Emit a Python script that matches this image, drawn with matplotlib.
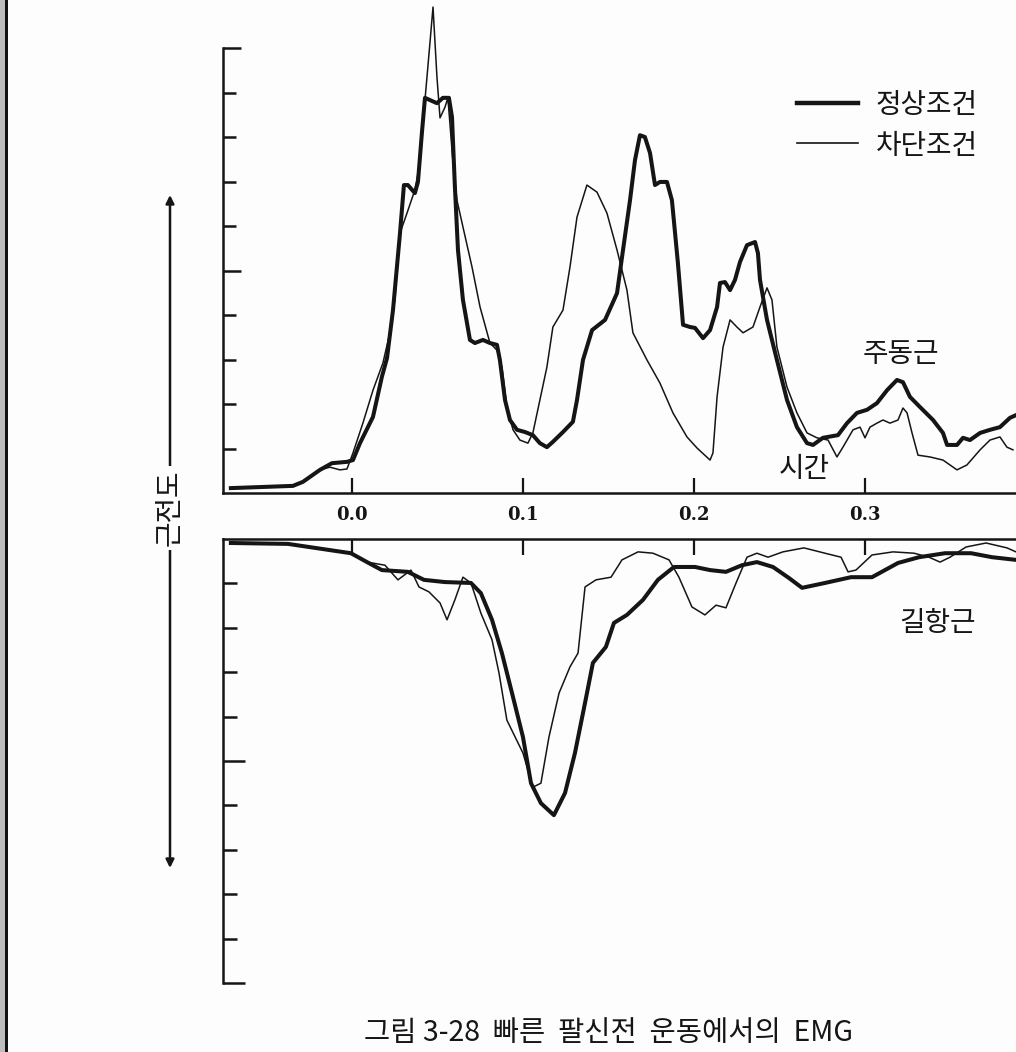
import matplotlib.pyplot as plt
from matplotlib.lines import Line2D
from matplotlib.patches import Rectangle

plt.rcParams['font.family'] = ['Noto Sans CJK KR', 'DejaVu Sans']

# time (s) and EMG level (tick units), agonist (top panel)
t_ago_normal = [-0.0708, -0.0345, -0.0287, -0.0187, -0.0117, -0.0029, 0.0006, 0.0047, 0.0123, 0.0175,
                0.0205, 0.0240, 0.0281, 0.0304, 0.0327, 0.0368, 0.0386, 0.0409, 0.0427, 0.0456,
                0.0497, 0.0532, 0.0567, 0.0585, 0.0602, 0.0620, 0.0649, 0.0690, 0.0719, 0.0766,
                0.0807, 0.0848, 0.0865, 0.0895, 0.0924, 0.0965, 0.1012, 0.1058, 0.1099, 0.1140,
                0.1175, 0.1234, 0.1292, 0.1316, 0.1351, 0.1404, 0.1480, 0.1550, 0.1585, 0.1626,
                0.1655, 0.1684, 0.1713, 0.1743, 0.1772, 0.1801, 0.1842, 0.1871, 0.1906, 0.1936,
                0.1977, 0.2006, 0.2053, 0.2094, 0.2135, 0.2152, 0.2181, 0.2211, 0.2240, 0.2269,
                0.2310, 0.2357, 0.2374, 0.2386, 0.2427, 0.2485, 0.2544, 0.2602, 0.2661, 0.2696,
                0.2754, 0.2842, 0.2895, 0.2953, 0.3012, 0.3070, 0.3129, 0.3187, 0.3222, 0.3263,
                0.3322, 0.3398, 0.3456, 0.3480, 0.3538, 0.3573, 0.3614, 0.3673, 0.3731, 0.3789,
                0.3848, 0.3883]
ago_normal = [0.11, 0.16, 0.25, 0.52, 0.67, 0.70, 0.74, 1.12, 1.71, 2.61,
              3.03, 4.11, 5.84, 6.92, 6.92, 6.74, 6.99, 8.09, 8.88, 8.83,
              8.76, 8.88, 8.88, 8.45, 6.88, 5.46, 4.34, 3.44, 3.37, 3.44,
              3.37, 3.33, 2.99, 2.09, 1.64, 1.42, 1.37, 1.30, 1.12, 1.03,
              1.15, 1.37, 1.60, 2.09, 2.99, 3.66, 3.89, 4.49, 5.46, 6.58,
              7.48, 8.04, 8.00, 7.64, 6.92, 6.99, 6.99, 6.58, 5.17, 3.78,
              3.73, 3.71, 3.48, 3.66, 4.18, 4.72, 4.74, 4.56, 4.79, 5.19,
              5.57, 5.64, 5.39, 4.79, 3.89, 2.99, 2.09, 1.48, 1.12, 1.08,
              1.24, 1.30, 1.57, 1.80, 1.87, 2.02, 2.31, 2.54, 2.49, 2.16,
              1.93, 1.64, 1.35, 1.08, 1.08, 1.24, 1.19, 1.35, 1.42, 1.48,
              1.69, 1.75]

t_ago_block = [-0.0708, -0.0345, -0.0287, -0.0187, -0.0129, -0.0070, -0.0029, 0.0006, 0.0064, 0.0123,
               0.0181, 0.0222, 0.0251, 0.0281, 0.0322, 0.0368, 0.0398, 0.0427, 0.0456, 0.0474,
               0.0497, 0.0515, 0.0544, 0.0561, 0.0591, 0.0614, 0.0649, 0.0702, 0.0749, 0.0807,
               0.0848, 0.0877, 0.0906, 0.0942, 0.0982, 0.1029, 0.1058, 0.1099, 0.1140, 0.1175,
               0.1234, 0.1275, 0.1316, 0.1374, 0.1433, 0.1491, 0.1550, 0.1608, 0.1643, 0.1725,
               0.1801, 0.1877, 0.1959, 0.2018, 0.2094, 0.2111, 0.2135, 0.2170, 0.2211, 0.2251,
               0.2287, 0.2345, 0.2386, 0.2427, 0.2456, 0.2485, 0.2544, 0.2602, 0.2661, 0.2719,
               0.2784, 0.2836, 0.2871, 0.2930, 0.2971, 0.3000, 0.3029, 0.3070, 0.3105, 0.3146,
               0.3193, 0.3222, 0.3246, 0.3275, 0.3310, 0.3380, 0.3456, 0.3538, 0.3596, 0.3673,
               0.3731, 0.3789, 0.3830, 0.3865]
ago_block = [0.11, 0.16, 0.25, 0.52, 0.58, 0.52, 0.54, 0.90, 1.57, 2.31,
             2.92, 3.60, 4.34, 5.84, 6.29, 6.81, 7.42, 8.83, 10.11, 10.92,
             9.35, 8.43, 8.67, 8.88, 7.42, 6.58, 5.98, 5.08, 4.18, 3.37,
             3.21, 2.83, 1.93, 1.42, 1.19, 1.12, 1.35, 2.09, 2.83, 3.73,
             4.11, 5.08, 6.20, 6.92, 6.76, 6.29, 5.46, 4.56, 3.60, 2.99,
             2.47, 1.80, 1.26, 1.01, 0.74, 0.90, 2.16, 3.28, 3.89, 3.73,
             3.60, 3.73, 4.18, 4.61, 4.34, 3.28, 2.38, 1.80, 1.35, 1.24,
             1.19, 0.81, 1.03, 1.42, 1.48, 1.24, 1.48, 1.57, 1.64, 1.57,
             1.64, 1.91, 1.80, 1.35, 0.85, 0.81, 0.74, 0.52, 0.63, 0.97,
             1.19, 1.26, 1.03, 0.97]

# antagonist (bottom panel), drawn downward
t_ant_normal = [-0.0708, -0.0374, -0.0129, -0.0006, 0.0088, 0.0175, 0.0327, 0.0421, 0.0544, 0.0696,
                0.0754, 0.0819, 0.0877, 0.0936, 0.1000, 0.1047, 0.1105, 0.1181, 0.1246, 0.1304,
                0.1363, 0.1409, 0.1485, 0.1532, 0.1608, 0.1702, 0.1789, 0.1883, 0.2006, 0.2094,
                0.2187, 0.2281, 0.2368, 0.2462, 0.2556, 0.2632, 0.2766, 0.2918, 0.3041, 0.3193,
                0.3316, 0.3468, 0.3620, 0.3743, 0.3883]
ant_normal = [-0.09, -0.11, -0.25, -0.32, -0.52, -0.70, -0.74, -0.92, -0.97, -0.99,
              -1.22, -1.82, -2.57, -3.47, -4.46, -5.50, -5.95, -6.22, -5.72, -4.82,
              -3.69, -2.79, -2.43, -1.89, -1.71, -1.37, -0.92, -0.63, -0.63, -0.70,
              -0.74, -0.59, -0.52, -0.63, -0.88, -1.10, -0.99, -0.86, -0.86, -0.54,
              -0.41, -0.32, -0.32, -0.41, -0.47]

t_ant_block = [-0.0708, -0.0374, -0.0129, -0.0006, 0.0088, 0.0193, 0.0269, 0.0345, 0.0392, 0.0450,
               0.0515, 0.0556, 0.0602, 0.0649, 0.0696, 0.0754, 0.0819, 0.0860, 0.0906, 0.1000,
               0.1058, 0.1105, 0.1152, 0.1211, 0.1275, 0.1322, 0.1363, 0.1427, 0.1515, 0.1579,
               0.1673, 0.1760, 0.1854, 0.1912, 0.1988, 0.2064, 0.2129, 0.2187, 0.2246, 0.2310,
               0.2368, 0.2433, 0.2520, 0.2643, 0.2766, 0.2860, 0.2901, 0.2947, 0.3041, 0.3164,
               0.3287, 0.3374, 0.3439, 0.3497, 0.3591, 0.3708, 0.3830, 0.3883]
ant_block = [-0.09, -0.11, -0.25, -0.32, -0.52, -0.59, -0.92, -0.70, -1.08, -1.19,
             -1.44, -1.82, -1.37, -0.86, -0.99, -1.67, -2.27, -3.02, -4.08, -4.82,
             -5.59, -5.50, -4.46, -3.47, -2.88, -2.57, -1.08, -0.92, -0.86, -0.47,
             -0.29, -0.32, -0.47, -0.86, -1.53, -1.71, -1.49, -1.55, -0.99, -0.41,
             -0.32, -0.41, -0.29, -0.20, -0.32, -0.41, -0.74, -0.70, -0.36, -0.29,
             -0.32, -0.41, -0.52, -0.41, -0.18, -0.09, -0.20, -0.29]

time_ticks = [0.0, 0.1, 0.2, 0.3]
time_labels = ['0.0', '0.1', '0.2', '0.3']
legend_labels = ['정상조건', '차단조건']

W, H = 1016, 1052
ink = '#151515'
thick, thin = 2.9, 1.1


def fx(px):
    return px / W


def fy(py):
    return 1 - py / H


fig = plt.figure(figsize=(W / 100, H / 100), dpi=100, facecolor='#fdfdfd')

# top panel (agonist)
ax1 = fig.add_axes([fx(223), fy(493), 1 - fx(223), 11.05 * 44.5 / H])
ax1.set_xlim(-0.0754, 0.3883)
ax1.set_ylim(0, 11.05)
ax1.plot(t_ago_normal, ago_normal, color=ink, lw=thick, solid_joinstyle='round')
ax1.plot(t_ago_block, ago_block, color=ink, lw=thin, solid_joinstyle='round')
ax1.spines[['top', 'right']].set_visible(False)
ax1.spines['left'].set_bounds(0, 10)
for s in ['left', 'bottom']:
    ax1.spines[s].set_linewidth(1.8)
    ax1.spines[s].set_color(ink)
ax1.set_yticks([5, 10])
ax1.set_yticks([1, 2, 3, 4, 6, 7, 8, 9], minor=True)
ax1.set_yticklabels([])
ax1.tick_params(axis='y', which='major', direction='in', length=13, width=1.8, color=ink)
ax1.tick_params(axis='y', which='minor', direction='in', length=9.5, width=1.8, color=ink)
ax1.set_xticks(time_ticks)
ax1.set_xticklabels(time_labels, family='DejaVu Serif', fontweight='bold', fontsize=13)
ax1.tick_params(axis='x', direction='in', length=11, width=1.6, color=ink, pad=9, labelcolor=ink)
ax1.set_facecolor('none')

# bottom panel (antagonist)
ax2 = fig.add_axes([fx(223), fy(539 + 10.6 * 44.4), 1 - fx(223), 10.6 * 44.4 / H])
ax2.set_xlim(-0.0754, 0.3883)
ax2.set_ylim(-10.6, 0)
ax2.plot(t_ant_normal, ant_normal, color=ink, lw=thick, solid_joinstyle='round')
ax2.plot(t_ant_block, ant_block, color=ink, lw=thin, solid_joinstyle='round')
ax2.spines[['bottom', 'right']].set_visible(False)
ax2.spines['left'].set_bounds(-10, 0)
for s in ['left', 'top']:
    ax2.spines[s].set_linewidth(1.8)
    ax2.spines[s].set_color(ink)
ax2.set_yticks([-5, -10])
ax2.set_yticks([-1, -2, -3, -4, -6, -7, -8, -9], minor=True)
ax2.set_yticklabels([])
ax2.tick_params(axis='y', which='major', direction='in', length=16, width=1.8, color=ink)
ax2.tick_params(axis='y', which='minor', direction='in', length=10, width=1.8, color=ink)
ax2.xaxis.tick_top()
ax2.set_xticks(time_ticks)
ax2.set_xticklabels([])
ax2.tick_params(axis='x', direction='in', length=11.5, width=1.6, color=ink)
ax2.set_facecolor('none')

# legend
fig.add_artist(Line2D([fx(797), fx(858)], [fy(103), fy(103)], color=ink, lw=3.2))
fig.add_artist(Line2D([fx(797), fx(858)], [fy(143), fy(143)], color=ink, lw=1.2))
fig.text(fx(876), fy(105), legend_labels[0], fontsize=20, color=ink, va='center', ha='left')
fig.text(fx(876), fy(146), legend_labels[1], fontsize=20, color=ink, va='center', ha='left')

# annotations
fig.text(fx(901), fy(354), '주동근', fontsize=20, color=ink, ha='center', va='center')
fig.text(fx(804), fy(469), '시간', fontsize=20, color=ink, ha='center', va='center')
fig.text(fx(937), fy(623), '길항근', fontsize=20, color=ink, ha='center', va='center')

# vertical EMG arrow with label
fig.add_artist(plt.Annotation('', xy=(fx(170), fy(195)), xytext=(fx(170), fy(868)),
                              xycoords='figure fraction', textcoords='figure fraction',
                              arrowprops=dict(arrowstyle='<|-|>', color=ink, lw=1.8,
                                              mutation_scale=12, shrinkA=0, shrinkB=0)))
fig.text(fx(170), fy(508), '근전도', fontsize=20, color=ink, rotation=90, ha='center', va='center',
         bbox=dict(boxstyle='square,pad=0.15', facecolor='#fdfdfd', edgecolor='none'))

# caption
fig.text(fx(608), fy(1033), '그림 3-28  빠른  팔신전  운동에서의  EMG', fontsize=20.5, color=ink,
         ha='center', va='center')

# scan border strip on the left
fig.add_artist(Rectangle((0, 0), fx(5), 1, transform=fig.transFigure, facecolor='#bdbdbd', edgecolor='none'))
fig.add_artist(Rectangle((fx(5), 0), fx(2.5), 1, transform=fig.transFigure, facecolor='#111111', edgecolor='none'))

fig.savefig('out.png', dpi=100, facecolor=fig.get_facecolor())
